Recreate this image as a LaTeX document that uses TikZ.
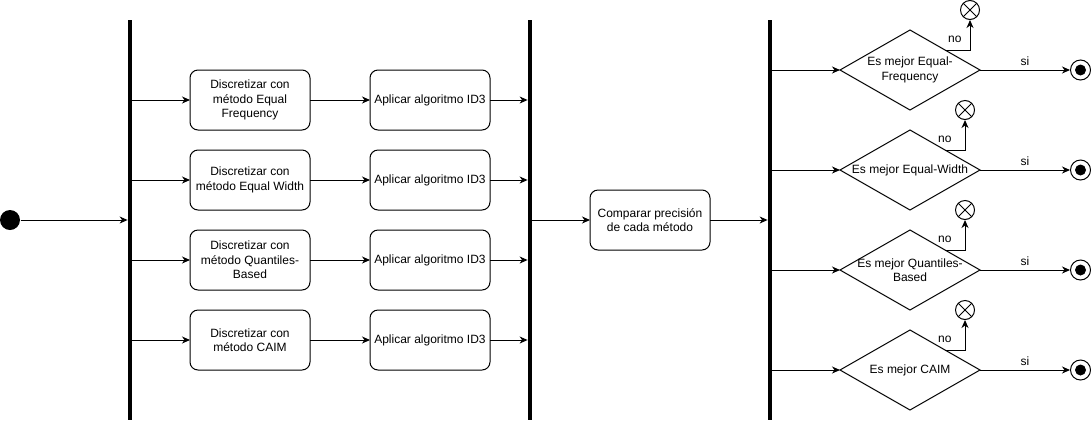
\documentclass[tikz,border=0pt]{standalone}
\usepackage{fontspec}
\setmainfont{Liberation Sans}
\usepackage{tikz}
\usetikzlibrary{arrows.meta,shapes,positioning}

\begin{document}
\begin{tikzpicture}[
        x=1pt, y=-1pt,
        node distance=20pt and 60pt,
        every node/.style={font=\fontsize{12}{14.5}\selectfont, align=center},
        every path/.style={line width=1pt},
        >={Stealth[length=8pt,width=7pt,inset=2.5pt]},
        box/.style={draw, rounded corners=8pt, minimum width=120pt, minimum height=60pt, inner sep=2pt, outer sep=0pt},
        bar/.style={fill=black, minimum width=3.8pt, minimum height=400pt, inner sep=0pt},
        decision/.style={draw, diamond, minimum width=140pt, minimum height=80pt, inner sep=0pt, outer sep=0pt},
        initial/.style={circle, fill=black, minimum size=20pt, inner sep=0pt},
        final/.style={circle, draw, minimum size=20pt, inner sep=0pt,
            path picture={\fill (path picture bounding box.center) circle (5.5pt);}},
        flowend/.style={circle, draw, minimum size=19pt, inner sep=0pt,
            path picture={\draw (path picture bounding box.north west) -- (path picture bounding box.south east)
                (path picture bounding box.north east) -- (path picture bounding box.south west);}},
        lbl/.style={inner sep=1pt}
    ]

    \useasboundingbox (0,0) rectangle (1091,424);

    % Nodes
    \node (start)[initial] at (10,220) {};
    \node (fork)[bar] at (130,220) {};
    \node (join)[bar] at (530,220) {};
    \node (split)[bar] at (770,220) {};

    \node (discA)[box] at (250,100) {Discretizar con\\ método Equal\\ Frequency};
    \node (discB)[box, below=of discA] {Discretizar con\\ método Equal Width};
    \node (discC)[box, below=of discB] {Discretizar con\\ método Quantiles-\\ Based};
    \node (discD)[box, below=of discC] {Discretizar con\\ método CAIM};

    \node (idA)[box, right=of discA] {Aplicar algoritmo ID3};
    \node (idB)[box, right=of discB] {Aplicar algoritmo ID3};
    \node (idC)[box, right=of discC] {Aplicar algoritmo ID3};
    \node (idD)[box, right=of discD] {Aplicar algoritmo ID3};

    \node (compare)[box] at (650,220) {Comparar precisión\\ de cada método};

    \node (decA)[decision, label={center:Es mejor Equal-\\ Frequency}] at (910,70) {};
    \node (decB)[decision, below=of decA, label={center:Es mejor Equal-Width}] {};
    \node (decC)[decision, below=of decB, label={center:Es mejor Quantiles-\\ Based}] {};
    \node (decD)[decision, below=of decC, label={center:Es mejor CAIM}] {};

    \node (endA)[final, right=90pt of decA] {};
    \node (endB)[final, right=90pt of decB] {};
    \node (endC)[final, right=90pt of decC] {};
    \node (endD)[final, right=90pt of decD] {};

    \node (noA)[flowend] at (970,10) {};
    \node (noB)[flowend] at (965,110) {};
    \node (noC)[flowend] at (965,210) {};
    \node (noD)[flowend] at (965,310) {};

    % Edges
    \draw[->] (start) -- (fork.west |- start);

    \draw[->] (fork.east |- discA) -- (discA);
    \draw[->] (fork.east |- discB) -- (discB);
    \draw[->] (fork.east |- discC) -- (discC);
    \draw[->] (fork.east |- discD) -- (discD);

    \draw[->] (discA) -- (idA);
    \draw[->] (discB) -- (idB);
    \draw[->] (discC) -- (idC);
    \draw[->] (discD) -- (idD);

    \draw[->] (idA) -- (join.west |- idA);
    \draw[->] (idB) -- (join.west |- idB);
    \draw[->] (idC) -- (join.west |- idC);
    \draw[->] (idD) -- (join.west |- idD);

    \draw[->] (join.east |- compare) -- (compare);
    \draw[->] (compare) -- (split.west |- compare);

    \draw[->] (split.east |- decA) -- (decA);
    \draw[->] (split.east |- decB) -- (decB);
    \draw[->] (split.east |- decC) -- (decC);
    \draw[->] (split.east |- decD) -- (decD);

    \draw[->] (decA) -- node[lbl, above=3pt] {si} (endA);
    \draw[->] (decB) -- node[lbl, above=3pt] {si} (endB);
    \draw[->] (decC) -- node[lbl, above=3pt] {si} (endC);
    \draw[->] (decD) -- node[lbl, above=3pt] {si} (endD);

    \draw[->] (decA.north east) -| node[lbl, pos=0.5, above left=6pt and 7pt] {no} (noA);
    \draw[->] (decB.north east) -| node[lbl, pos=0.5, above left=6pt and 12pt] {no} (noB);
    \draw[->] (decC.north east) -| node[lbl, pos=0.5, above left=6pt and 12pt] {no} (noC);
    \draw[->] (decD.north east) -| node[lbl, pos=0.5, above left=6pt and 12pt] {no} (noD);

\end{tikzpicture}
\end{document}
